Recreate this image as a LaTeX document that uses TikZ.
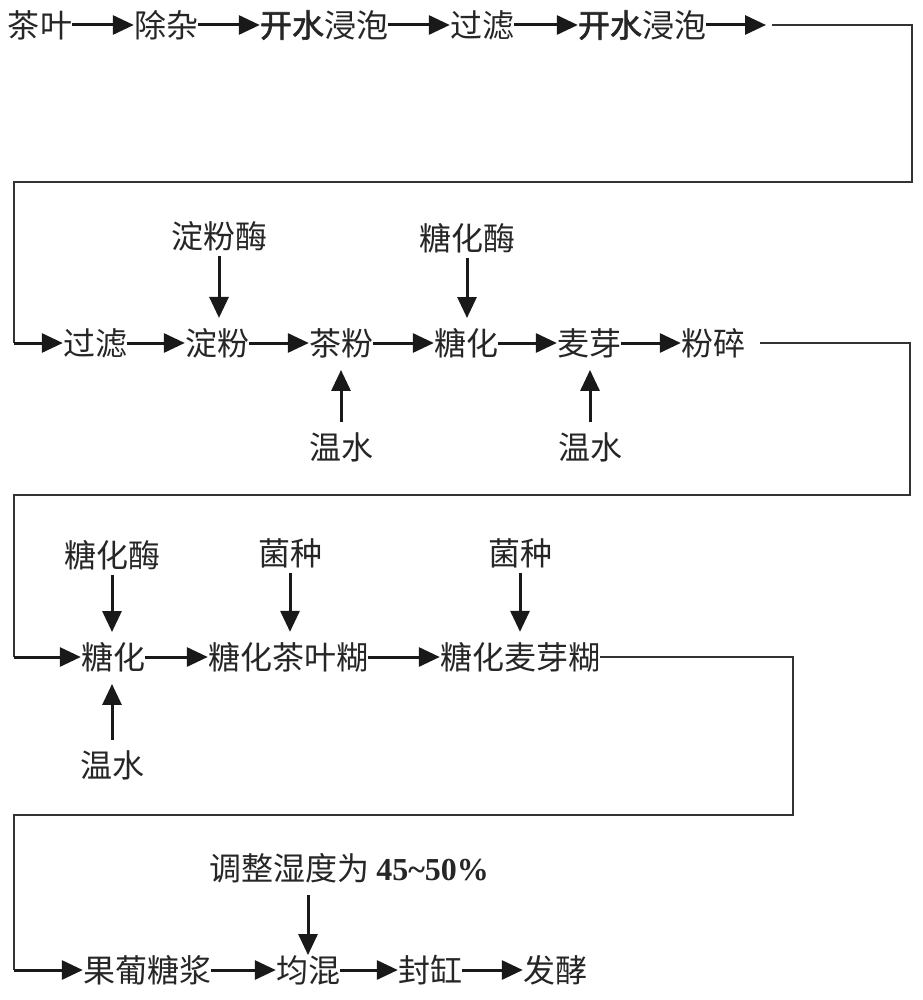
\documentclass[tikz,border=0pt]{standalone}
\usepackage{fontspec}
\setmainfont{Liberation Serif}
\newfontfamily\cjk[AutoFakeBold=2]{Noto Sans CJK SC}
\usetikzlibrary{arrows.meta}
\begin{document}
\begin{tikzpicture}[x=1pt,y=-1pt,
  lbl/.style={inner sep=0pt,font=\cjk\fontsize{32}{36}\selectfont,text=black!85},
  arr/.style={line width=3pt,black!90,-{Triangle[length=21pt,width=19pt]}},
  downarr/.style={arr,shorten <=5pt,shorten >=10pt},
  uparr/.style={arr,shorten <=10pt,shorten >=12pt},
  loopline/.style={line width=2.6pt,black!80}]
\useasboundingbox (0,0) rectangle (922,1000);
\fill[white] (0,0) rectangle (922,1000);

% Row 1
\node[lbl] (cy)  at (40,25)  {茶叶};
\node[lbl] (cz)  at (166,25) {除杂};
\node[lbl] (kp1) at (324,25) {\textbf{开水}浸泡};
\node[lbl] (gl1) at (482,25) {过滤};
\node[lbl] (kp2) at (642,25) {\textbf{开水}浸泡};
\coordinate (e1) at (766,25);
\coordinate (s1) at (772,25);
\coordinate (c1a) at (912,25);
\coordinate (c1b) at (912,182);
\coordinate (c1c) at (14,182);
\coordinate (c1d) at (14,343);

% Row 2
\node[lbl] (gl2) at (95,343)  {过滤};
\node[lbl] (df)  at (217,343) {淀粉};
\node[lbl] (cf)  at (341,343) {茶粉};
\node[lbl] (th1) at (466,343) {糖化};
\node[lbl] (my)  at (589,343) {麦芽};
\node[lbl] (fs)  at (713,343) {粉碎};
\node[lbl] (dfm) at (219,236) {淀粉酶};
\node[lbl] (thm1) at (467,238) {糖化酶};
\node[lbl] (ws1) at (341,447) {温水};
\node[lbl] (ws2) at (590,447) {温水};
\coordinate (s2) at (760,343);
\coordinate (c2a) at (910,343);
\coordinate (c2b) at (910,495);
\coordinate (c2c) at (14,495);
\coordinate (c2d) at (14,657);

% Row 3
\node[lbl] (th2) at (113,657) {糖化};
\node[lbl] (tcy) at (288,657) {糖化茶叶糊};
\node[lbl] (tmy) at (520,657) {糖化麦芽糊};
\node[lbl] (thm2) at (112,555) {糖化酶};
\node[lbl] (jz1) at (290,553) {菌种};
\node[lbl] (jz2) at (520,553) {菌种};
\node[lbl] (ws3) at (112,765) {温水};
\coordinate (c3b) at (793,815);
\coordinate (c3c) at (14,815);
\coordinate (c3d) at (14,970);

% Row 4
\node[lbl] (gp) at (147,970) {果葡糖浆};
\node[lbl] (jh) at (308,970) {均混};
\node[lbl] (fg) at (430,970) {封缸};
\node[lbl] (fj) at (555,970) {发酵};
\node[lbl] (tz) at (349,868) {调整湿度为 {\rmfamily\bfseries 45\textasciitilde50\%}};

% Row 1 arrows
\draw[arr] (cy.east) -- (cz.west);
\draw[arr] (cz.east) -- (kp1.west);
\draw[arr] (kp1.east) -- (gl1.west);
\draw[arr] (gl1.east) -- (kp2.west);
\draw[arr] (kp2.east) -- (e1);
\draw[loopline] (s1) -- (c1a) -- (c1b) -- (c1c) -- (c1d);
\draw[arr] (c1d) -- (gl2.west);

% Row 2 arrows
\draw[arr] (gl2.east) -- (df.west);
\draw[arr] (df.east) -- (cf.west);
\draw[arr] (cf.east) -- (th1.west);
\draw[arr] (th1.east) -- (my.west);
\draw[arr] (my.east) -- (fs.west);
\draw[downarr] (dfm.south) -- (dfm.south |- df.north);
\draw[downarr] (thm1.south) -- (thm1.south |- th1.north);
\draw[uparr] (ws1.north) -- (ws1.north |- cf.south);
\draw[uparr] (ws2.north) -- (ws2.north |- my.south);
\draw[loopline] (s2) -- (c2a) -- (c2b) -- (c2c) -- (c2d);
\draw[arr] (c2d) -- (th2.west);

% Row 3 arrows
\draw[arr] (th2.east) -- (tcy.west);
\draw[arr] (tcy.east) -- (tmy.west);
\draw[downarr] (thm2.south) -- (thm2.south |- th2.north);
\draw[downarr] (jz1.south) -- (jz1.south |- tcy.north);
\draw[downarr] (jz2.south) -- (jz2.south |- tmy.north);
\draw[uparr] (ws3.north) -- (ws3.north |- th2.south);
\draw[loopline] (tmy.east) -- (tmy.east -| c3b) -- (c3b) -- (c3c) -- (c3d);
\draw[arr] (c3d) -- (gp.west);

% Row 4 arrows
\draw[arr] (gp.east) -- (jh.west);
\draw[arr] (jh.east) -- (fg.west);
\draw[arr] (fg.east) -- (fj.west);
\draw[arr,shorten <=12pt] (jh.north |- tz.south) -- (jh.north);
\end{tikzpicture}
\end{document}
